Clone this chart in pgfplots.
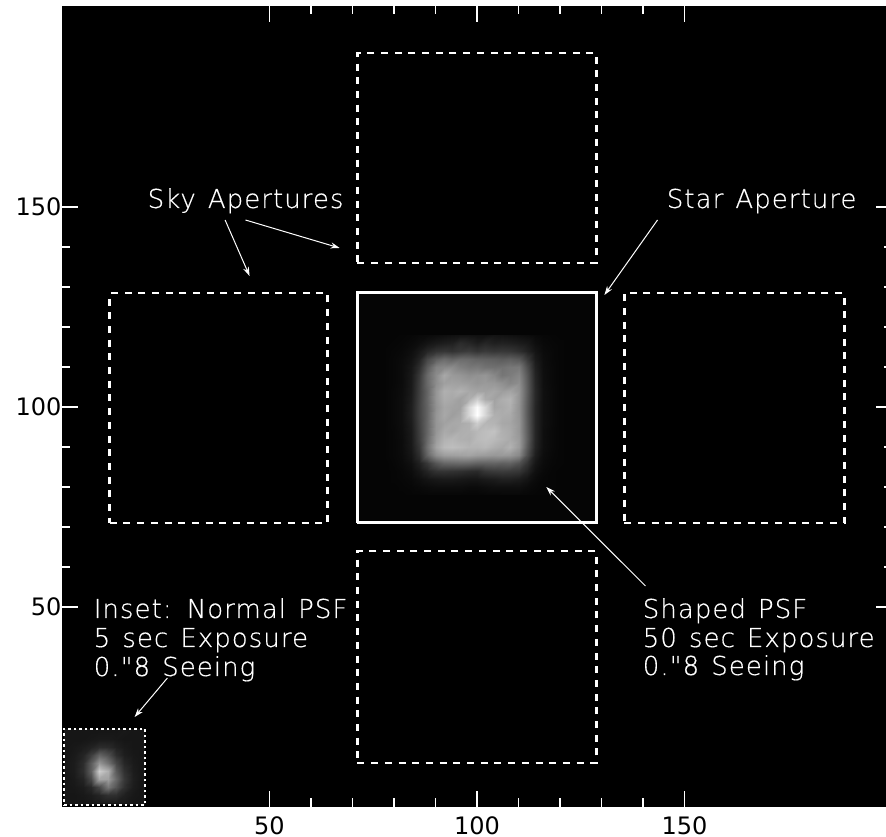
\documentclass[border=0pt]{standalone}
\usepackage{fontspec}
\setmainfont{DejaVu Sans}
\newfontfamily\annfont[LetterSpace=4,WordSpace=1.3,FakeBold=0.4]{DejaVu Sans ExtraLight}
\usepackage{pgfplots}
\pgfplotsset{compat=1.18}
\usetikzlibrary{arrows.meta}

\tikzset{
	skyap/.style={white,line width=2.8pt,dash pattern=on 7pt off 6.7pt},
	ann/.style={anchor=base west,white,inner sep=0pt,font=\annfont\fontsize{26}{26}\selectfont},
	arr/.style={white,line width=1pt,-{Stealth[length=9pt,width=6pt]}}
}

\begin{document}
\begin{tikzpicture}
	% axis runs a little past the right edge of the page, as in the original crop
	\useasboundingbox (-62pt,-30pt) rectangle (824pt,807pt);
	\begin{axis}[
			at={(0pt,0pt)},anchor=south west,
			scale only axis,width=830pt,height=801pt,
			xmin=0,xmax=200,ymin=0,ymax=200.25,
			xtick={50,100,150},ytick={50,100,150},
			minor x tick num=4,minor y tick num=4,
			tick align=inside,
			major tick length=16pt,minor tick length=8.5pt,
			every tick/.style={white,line width=1.8pt},
			axis line style={draw=none},
			axis background/.style={fill=black},
			axis on top,
			tick label style={font=\fontsize{24}{24}\selectfont,black},
			/pgf/number format/assume math mode=true,
			xticklabel style={inner sep=0pt,yshift=-9pt},
			yticklabel style={xshift=3pt},
			colormap={bw}{gray(0cm)=(0);gray(1cm)=(1)},
			point meta min=0,point meta max=255,
		]
		% backgrounds inside the star and inset boxes
		\addplot[draw=none,fill={rgb,255:red,5;green,5;blue,5}] coordinates {(71,71)(129,71)(129,128.5)(71,128.5)} \closedcycle;
		\addplot[draw=none,fill={rgb,255:red,22;green,22;blue,22}] coordinates {(0.5,0.5)(20,0.5)(20,19.5)(0.5,19.5)} \closedcycle;
		% shaped psf
		\addplot[surf,shader=interp,mesh/cols=23,point meta=explicit] table[row sep=\\,x=x,y=y,meta=v] {
x y v\\
78 118 5\\80 118 5\\82 118 6\\84 118 7\\86 118 9\\88 118 10\\90 118 12\\92 118 14\\94 118 16\\96 118 18\\98 118 18\\100 118 16\\102 118 16\\104 118 20\\106 118 18\\108 118 16\\110 118 14\\112 118 12\\114 118 9\\116 118 7\\118 118 6\\120 118 5\\122 118 5\\
78 116 5\\80 116 6\\82 116 7\\84 116 10\\86 116 14\\88 116 20\\90 116 26\\92 116 30\\94 116 32\\96 116 44\\98 116 38\\100 116 30\\102 116 38\\104 116 32\\106 116 34\\108 116 32\\110 116 28\\112 116 24\\114 116 14\\116 116 9\\118 116 7\\120 116 6\\122 116 5\\
78 114 6\\80 114 7\\82 114 9\\84 114 14\\86 114 24\\88 114 38\\90 114 50\\92 114 54\\94 114 50\\96 114 56\\98 114 60\\100 114 52\\102 114 58\\104 114 54\\106 114 56\\108 114 54\\110 114 46\\112 114 34\\114 114 20\\116 114 11\\118 114 8\\120 114 6\\122 114 5\\
78 112 6\\80 112 8\\82 112 11\\84 112 18\\86 112 34\\88 112 70\\90 112 95\\92 112 108\\94 112 100\\96 112 108\\98 112 106\\100 112 100\\102 112 98\\104 112 96\\106 112 92\\108 112 96\\110 112 88\\112 112 58\\114 112 26\\116 112 13\\118 112 8\\120 112 6\\122 112 5\\
78 110 6\\80 110 8\\82 110 12\\84 110 22\\86 110 46\\88 110 90\\90 110 130\\92 110 136\\94 110 140\\96 110 128\\98 110 120\\100 110 122\\102 110 114\\104 110 112\\106 110 114\\108 110 120\\110 110 122\\112 110 78\\114 110 32\\116 110 14\\118 110 9\\120 110 6\\122 110 5\\
78 108 6\\80 108 8\\82 108 12\\84 108 24\\86 108 56\\88 108 105\\90 108 140\\92 108 168\\94 108 154\\96 108 150\\98 108 142\\100 108 146\\102 108 150\\104 108 136\\106 108 118\\108 108 124\\110 108 134\\112 108 88\\114 108 36\\116 108 15\\118 108 9\\120 108 6\\122 108 5\\
78 106 6\\80 106 8\\82 106 12\\84 106 25\\86 106 60\\88 106 105\\90 106 142\\92 106 160\\94 106 162\\96 106 160\\98 106 156\\100 106 150\\102 106 154\\104 106 152\\106 106 144\\108 106 134\\110 106 142\\112 106 92\\114 106 38\\116 106 15\\118 106 9\\120 106 6\\122 106 5\\
78 104 6\\80 104 9\\82 104 13\\84 104 26\\86 104 62\\88 104 100\\90 104 150\\92 104 176\\94 104 172\\96 104 178\\98 104 168\\100 104 164\\102 104 162\\104 104 166\\106 104 158\\108 104 164\\110 104 148\\112 104 94\\114 104 40\\116 104 16\\118 104 10\\120 104 6\\122 104 5\\
78 102 6\\80 102 9\\82 102 14\\84 102 28\\86 102 64\\88 102 102\\90 102 150\\92 102 172\\94 102 168\\96 102 160\\98 102 176\\100 102 205\\102 102 172\\104 102 162\\106 102 174\\108 102 180\\110 102 148\\112 102 92\\114 102 40\\116 102 16\\118 102 10\\120 102 6\\122 102 5\\
78 100 6\\80 100 9\\82 100 14\\84 100 30\\86 100 66\\88 100 100\\90 100 146\\92 100 166\\94 100 162\\96 100 160\\98 100 215\\100 100 252\\102 100 215\\104 100 166\\106 100 170\\108 100 176\\110 100 146\\112 100 90\\114 100 38\\116 100 16\\118 100 10\\120 100 6\\122 100 5\\
78 98 6\\80 98 9\\82 98 14\\84 98 30\\86 98 66\\88 98 100\\90 98 150\\92 98 168\\94 98 158\\96 98 166\\98 98 215\\100 98 255\\102 98 215\\104 98 176\\106 98 172\\108 98 170\\110 98 148\\112 98 90\\114 98 38\\116 98 16\\118 98 10\\120 98 6\\122 98 5\\
78 96 6\\80 96 9\\82 96 14\\84 96 28\\86 96 64\\88 96 102\\90 96 150\\92 96 162\\94 96 168\\96 96 170\\98 96 176\\100 96 205\\102 96 182\\104 96 180\\106 96 168\\108 96 166\\110 96 150\\112 96 92\\114 96 38\\116 96 16\\118 96 10\\120 96 6\\122 96 5\\
78 94 6\\80 94 8\\82 94 13\\84 94 26\\86 94 62\\88 94 102\\90 94 150\\92 94 170\\94 94 166\\96 94 174\\98 94 176\\100 94 184\\102 94 190\\104 94 194\\106 94 176\\108 94 170\\110 94 150\\112 94 94\\114 94 38\\116 94 15\\118 94 9\\120 94 6\\122 94 5\\
78 92 6\\80 92 8\\82 92 12\\84 92 25\\86 92 60\\88 92 106\\90 92 156\\92 92 178\\94 92 182\\96 92 176\\98 92 174\\100 92 186\\102 92 190\\104 92 186\\106 92 178\\108 92 170\\110 92 154\\112 92 96\\114 92 38\\116 92 15\\118 92 9\\120 92 6\\122 92 5\\
78 90 6\\80 90 8\\82 90 12\\84 90 24\\86 90 54\\88 90 112\\90 90 164\\92 90 186\\94 90 190\\96 90 186\\98 90 180\\100 90 180\\102 90 184\\104 90 174\\106 90 168\\108 90 178\\110 90 154\\112 90 90\\114 90 36\\116 90 15\\118 90 9\\120 90 6\\122 90 5\\
78 88 6\\80 88 8\\82 88 11\\84 88 21\\86 88 46\\88 88 100\\90 88 142\\92 88 158\\94 88 160\\96 88 162\\98 88 164\\100 88 158\\102 88 156\\104 88 152\\106 88 154\\108 88 152\\110 88 136\\112 88 78\\114 88 30\\116 88 13\\118 88 8\\120 88 6\\122 88 5\\
78 86 5\\80 86 7\\82 86 10\\84 86 16\\86 86 32\\88 86 56\\90 86 86\\92 86 102\\94 86 104\\96 86 106\\98 86 104\\100 86 98\\102 86 98\\104 86 100\\106 86 96\\108 86 98\\110 86 82\\112 86 52\\114 86 22\\116 86 11\\118 86 7\\120 86 6\\122 86 5\\
78 84 5\\80 84 6\\82 84 8\\84 84 12\\86 84 22\\88 84 36\\90 84 50\\92 84 52\\94 84 50\\96 84 48\\98 84 44\\100 84 42\\102 84 54\\104 84 58\\106 84 60\\108 84 58\\110 84 54\\112 84 36\\114 84 16\\116 84 9\\118 84 6\\120 84 5\\122 84 5\\
78 82 5\\80 82 6\\82 82 7\\84 82 9\\86 82 14\\88 82 20\\90 82 24\\92 82 26\\94 82 26\\96 82 24\\98 82 22\\100 82 22\\102 82 26\\104 82 28\\106 82 32\\108 82 32\\110 82 28\\112 82 20\\114 82 11\\116 82 7\\118 82 6\\120 82 5\\122 82 5\\
78 80 5\\80 80 5\\82 80 6\\84 80 7\\86 80 9\\88 80 11\\90 80 13\\92 80 13\\94 80 13\\96 80 13\\98 80 11\\100 80 11\\102 80 13\\104 80 15\\106 80 15\\108 80 15\\110 80 15\\112 80 11\\114 80 8\\116 80 6\\118 80 6\\120 80 5\\122 80 5\\
78 78 5\\80 78 5\\82 78 5\\84 78 6\\86 78 6\\88 78 7\\90 78 7\\92 78 7\\94 78 7\\96 78 7\\98 78 6\\100 78 6\\102 78 7\\104 78 7\\106 78 8\\108 78 8\\110 78 8\\112 78 7\\114 78 6\\116 78 6\\118 78 5\\120 78 5\\122 78 5\\
		};
		% normal psf inset
		\addplot[surf,shader=interp,mesh/cols=10,point meta=explicit] table[row sep=\\,x=x,y=y,meta=v] {
x y v\\
1 19 22\\3 19 22\\5 19 22\\7 19 22\\9 19 22\\11 19 22\\13 19 22\\15 19 24\\17 19 22\\19 19 22\\
1 17 22\\3 17 22\\5 17 22\\7 17 24\\9 17 26\\11 17 26\\13 17 24\\15 17 22\\17 17 22\\19 17 22\\
1 15 22\\3 15 24\\5 15 28\\7 15 34\\9 15 44\\11 15 42\\13 15 32\\15 15 26\\17 15 22\\19 15 22\\
1 13 22\\3 13 26\\5 13 36\\7 13 62\\9 13 100\\11 13 80\\13 13 46\\15 13 30\\17 13 24\\19 13 22\\
1 11 24\\3 11 28\\5 11 44\\7 11 92\\9 11 150\\11 11 115\\13 11 70\\15 11 38\\17 11 26\\19 11 22\\
1 9 24\\3 9 28\\5 9 46\\7 9 95\\9 9 205\\11 9 175\\13 9 90\\15 9 48\\17 9 28\\19 9 22\\
1 7 22\\3 7 26\\5 7 36\\7 7 72\\9 7 165\\11 7 160\\13 7 105\\15 7 56\\17 7 30\\19 7 22\\
1 5 22\\3 5 24\\5 5 28\\7 5 40\\9 5 70\\11 5 120\\13 5 85\\15 5 48\\17 5 28\\19 5 22\\
1 3 22\\3 3 22\\5 3 24\\7 3 28\\9 3 36\\11 3 48\\13 3 46\\15 3 32\\17 3 24\\19 3 22\\
1 1 22\\3 1 22\\5 1 22\\7 1 24\\9 1 26\\11 1 28\\13 1 28\\15 1 26\\17 1 22\\19 1 22\\
		};
		% apertures
		\addplot[white,line width=3pt] coordinates {(71.2,71)(128.8,71)(128.8,128.5)(71.2,128.5)(71.2,71)};
		\addplot[skyap] coordinates {(11.5,71)(64,71)(64,128.5)(11.5,128.5)(11.5,71)};
		\addplot[skyap] coordinates {(135.5,71)(188.5,71)(188.5,128.5)(135.5,128.5)(135.5,71)};
		\addplot[skyap] coordinates {(71.2,136)(128.8,136)(128.8,188.5)(71.2,188.5)(71.2,136)};
		\addplot[skyap] coordinates {(71.2,11)(128.8,11)(128.8,64)(71.2,64)(71.2,11)};
		\addplot[white,line width=2.4pt,dash pattern=on 2.5pt off 3pt] coordinates {(0.5,0.5)(20,0.5)(20,19.5)(0.5,19.5)(0.5,0.5)};
		% arrows
		\draw[arr] (axis cs:39.3,146.75) -- (axis cs:45.2,132.75);
		\draw[arr] (axis cs:44.2,146.75) -- (axis cs:66.9,139.75);
		\draw[arr] (axis cs:143.5,146.75) -- (axis cs:130.7,128);
		\draw[arr] (axis cs:140.6,55.25) -- (axis cs:116.7,80);
		\draw[arr] (axis cs:25.4,32.25) -- (axis cs:17.5,22.5);
		% labels
		\node[ann] at (axis cs:20.6,149.75) {Sky Apertures};
		\node[ann] at (axis cs:145.7,149.75) {Star Aperture};
		\node[ann] at (axis cs:7.6,47.25) {Inset: Normal PSF};
		\node[ann] at (axis cs:7.6,40) {5 sec Exposure};
		\node[ann] at (axis cs:7.6,32.75) {0."8 Seeing};
		\node[ann] at (axis cs:139.9,47.25) {Shaped PSF};
		\node[ann] at (axis cs:139.9,40) {50 sec Exposure};
		\node[ann] at (axis cs:139.9,33) {0."8 Seeing};
	\end{axis}
\end{tikzpicture}
\end{document}
